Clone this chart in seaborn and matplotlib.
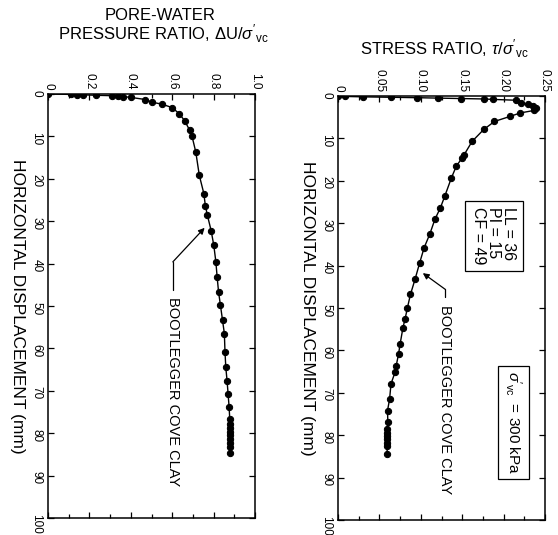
import pandas as pd
import matplotlib
matplotlib.use("Agg")
import matplotlib.pyplot as plt
import seaborn as sns
from matplotlib.ticker import MultipleLocator

# pore-water pressure ratio vs horizontal displacement (left panel)
pwp_disp = [0, 0.1, 0.15, 0.2, 0.3, 0.4, 0.5, 0.6, 0.8, 1.3, 1.9, 2.4, 3.2,
            4.7, 6.3, 8.6, 9.8, 13.7, 19.2, 23.5, 26.3, 28.6, 32.2, 35.7,
            39.6, 43.1, 46.7, 49.8, 53.3, 56.5, 60.8, 64.5, 67.6, 70.7, 73.9,
            76.6, 77.8, 78.7, 79.6, 80.5, 81.4, 82.3, 83.2, 84.6]
pwp_ratio = [0, 0.11, 0.14, 0.17, 0.23, 0.31, 0.34, 0.36, 0.40, 0.47, 0.50,
             0.55, 0.60, 0.635, 0.66, 0.685, 0.695, 0.714, 0.731, 0.753, 0.760,
             0.770, 0.788, 0.801, 0.811, 0.817, 0.824, 0.833, 0.843, 0.852,
             0.855, 0.859, 0.865, 0.870, 0.875, 0.878, 0.880, 0.880, 0.881,
             0.880, 0.881, 0.880, 0.880, 0.878]

# stress ratio vs horizontal displacement (right panel)
str_disp = [0, 0.1, 0.2, 0.3, 0.4, 0.5, 0.6, 0.7, 0.8, 1.0, 1.6, 2.0, 2.4,
            2.8, 3.4, 4.0, 4.8, 6.0, 7.9, 10.7, 13.8, 14.6, 16.5, 19.3, 23.6,
            26.4, 29.1, 32.5, 35.8, 39.3, 43.2, 46.8, 49.9, 52.6, 54.6, 58.5,
            60.9, 63.6, 65.2, 67.9, 71.5, 74.2, 77.0, 78.6, 79.4, 80.2, 81.0,
            81.8, 82.6, 84.4]
str_ratio = [0, 0.008, 0.030, 0.064, 0.096, 0.121, 0.149, 0.176, 0.187, 0.215,
             0.221, 0.229, 0.235, 0.239, 0.237, 0.220, 0.208, 0.189, 0.176,
             0.162, 0.1525, 0.150, 0.143, 0.137, 0.129, 0.1236, 0.117, 0.111,
             0.104, 0.0987, 0.0931, 0.0875, 0.0839, 0.081, 0.0785, 0.075,
             0.0731, 0.0703, 0.0688, 0.064, 0.0623, 0.0598, 0.0602, 0.0595,
             0.0593, 0.0594, 0.0593, 0.0594, 0.0593, 0.0594]

pwp_ticks = [0, 0.2, 0.4, 0.6, 0.8, 1.0]
pwp_ticklabels = ["0", "0.2", "0.4", "0.6", "0.8", "1.0"]
str_ticks = [0, 0.05, 0.10, 0.15, 0.20, 0.25]
str_ticklabels = ["0", "0.05", "0.10", "0.15", "0.20", "0.25"]
disp_ticks = list(range(0, 101, 10))

sns.set_theme(style="ticks")
plt.rcParams["font.family"] = ["Liberation Sans", "DejaVu Sans"]
plt.rcParams["mathtext.fontset"] = "custom"
plt.rcParams["mathtext.rm"] = "Liberation Sans"
plt.rcParams["mathtext.it"] = "Liberation Sans:italic"
plt.rcParams["mathtext.sf"] = "Liberation Sans"
for key in ["text.color", "axes.labelcolor", "xtick.color", "ytick.color",
            "axes.edgecolor"]:
    plt.rcParams[key] = "black"

df_pwp = pd.DataFrame({"ratio": pwp_ratio, "disp": pwp_disp})
df_str = pd.DataFrame({"ratio": str_ratio, "disp": str_disp})

fig = plt.figure(figsize=(5.58, 5.35), dpi=100)
ax1 = fig.add_axes([48/558, 17/535, 207/558, 424/535])
ax2 = fig.add_axes([338/558, 15/535, 207/558, 424/535])


def style_axis(ax, df, xmax, ticks, labels, minor):
    sns.lineplot(data=df, x="ratio", y="disp", sort=False, estimator=None,
                 marker="o", markersize=4.5, color="black", linewidth=1.0,
                 markeredgecolor="black", ax=ax)
    ax.set_xlim(0, xmax)
    ax.set_ylim(100, 0)
    ax.xaxis.tick_top()
    ax.set_xticks(ticks)
    ax.set_xticklabels(labels)
    ax.xaxis.set_minor_locator(MultipleLocator(minor))
    ax.set_yticks(disp_ticks)
    ax.set_yticklabels([str(t) for t in disp_ticks])
    ax.tick_params(which="both", direction="in", top=True, bottom=True,
                   left=True, right=True, labeltop=True, labelbottom=False,
                   color="black", width=0.9)
    ax.tick_params(which="major", length=4)
    ax.tick_params(which="minor", length=3)
    ax.tick_params(axis="x", labelrotation=-90, labelsize=8.5, pad=3)
    ax.tick_params(axis="y", labelrotation=-90, labelsize=8.5, pad=4)
    ax.set_xlabel("")
    ax.set_ylabel("HORIZONTAL DISPLACEMENT (mm)", rotation=-90, va="top",
                  fontsize=12.5, labelpad=4)
    for s in ax.spines.values():
        s.set_color("black")
        s.set_linewidth(1.1)


style_axis(ax1, df_pwp, 1.0, pwp_ticks, pwp_ticklabels, 0.1)
style_axis(ax2, df_str, 0.25, str_ticks, str_ticklabels, 0.025)

# leaders and labels, left panel
ax1.annotate("", xy=(0.775, 30.6), xytext=(0.603, 39.6),
             arrowprops=dict(arrowstyle="-|>", color="black", lw=0.9,
                             shrinkA=0, shrinkB=4, mutation_scale=9))
ax1.plot([0.603, 0.603], [39.6, 46.3], color="black", lw=0.9)
ax1.text(0.603, 47.8, "BOOTLEGGER COVE CLAY", rotation=-90,
         rotation_mode="anchor", ha="left", va="center", fontsize=10.5)

# leaders and labels, right panel
ax2.annotate("", xy=(0.097, 41.0), xytext=(0.1295, 45.6),
             arrowprops=dict(arrowstyle="-|>", color="black", lw=0.9,
                             shrinkA=0, shrinkB=4, mutation_scale=9))
ax2.plot([0.1295, 0.1295], [45.6, 47.5], color="black", lw=0.9)
ax2.text(0.1295, 49.2, "BOOTLEGGER COVE CLAY", rotation=-90,
         rotation_mode="anchor", ha="left", va="center", fontsize=10.5)

ax2.text(0.188, 33, "LL = 36\nPI = 15\nCF = 49", rotation=-90, ha="center",
         va="center", fontsize=11.5, linespacing=1.0, multialignment="left",
         bbox=dict(boxstyle="square,pad=0.4", fc="white", ec="black", lw=0.9))
ax2.text(0.212, 77, r"$\sigma'_{\mathrm{vc}}$  = 300 kPa", rotation=-90,
         ha="center", va="center", fontsize=11,
         bbox=dict(boxstyle="square,pad=0.35", fc="white", ec="black", lw=0.9))

# axis titles (horizontal, above the panels)
fig.text(160/558, 1 - 20/535, "PORE-WATER", ha="center", va="baseline",
         fontsize=12)
fig.text(163/558, 1 - 40/535, r"PRESSURE RATIO, $\Delta\mathrm{U}/\sigma'_{\mathrm{vc}}$",
         ha="center", va="baseline", fontsize=12)
fig.text(444/558, 1 - 55/535, r"STRESS RATIO, $\tau/\sigma'_{\mathrm{vc}}$",
         ha="center", va="baseline", fontsize=12)

fig.savefig("out.png", dpi=100, facecolor="white")
